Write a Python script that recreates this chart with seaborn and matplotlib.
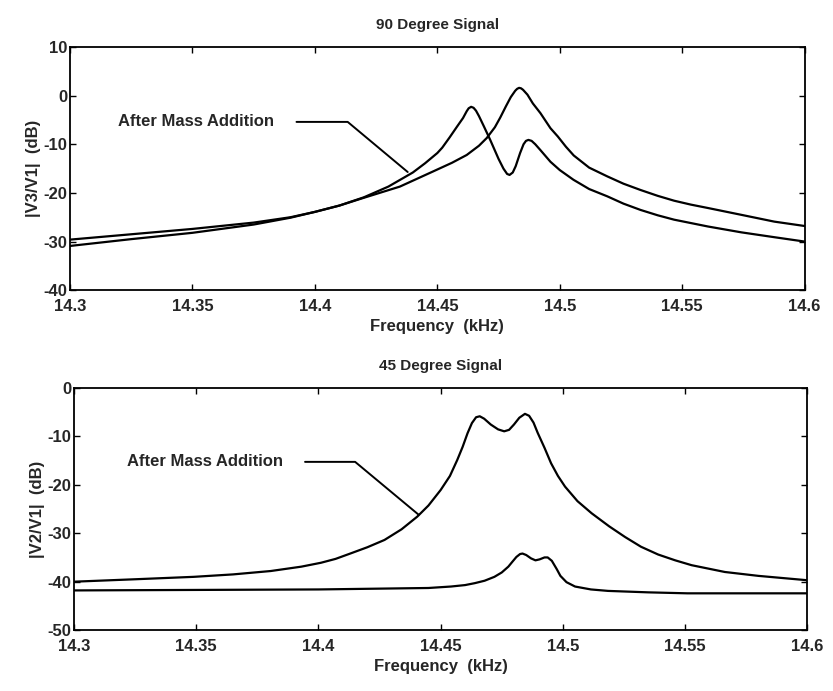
"""Two-panel frequency response (90 and 45 degree signals), before / after mass addition."""
import matplotlib
matplotlib.use("Agg")
import matplotlib.pyplot as plt
import pandas as pd
import seaborn as sns

# ---- 90 degree signal (top panel) ----
F90_AFTER = [14.300, 14.325, 14.350, 14.375, 14.390, 14.400, 14.410, 14.420, 14.430,
             14.440, 14.445, 14.450, 14.452, 14.455, 14.458, 14.4605, 14.462, 14.4628,
             14.4638, 14.4648, 14.4658, 14.467, 14.4690, 14.4716, 14.475, 14.477, 14.4785,
             14.4795, 14.4808, 14.482, 14.4838, 14.4852, 14.4862, 14.4872, 14.4885,
             14.490, 14.4921, 14.4962, 14.500, 14.5056, 14.512, 14.5194, 14.526, 14.533,
             14.540, 14.5467, 14.5605, 14.5741, 14.5876, 14.600]
DB90_AFTER = [-29.6, -28.5, -27.4, -26.1, -25.0, -23.9, -22.6, -20.9, -18.7,
              -15.8, -13.9, -11.8, -10.7, -8.6, -6.4, -4.6, -3.2, -2.6,
              -2.3, -2.5, -3.1, -4.2, -6.3, -9.1, -13.0, -15.0, -16.1,
              -16.3, -15.8, -14.5, -11.8, -10.0, -9.3, -9.1, -9.3,
              -10.0, -11.2, -13.6, -15.3, -17.3, -19.2, -20.7, -22.2, -23.5,
              -24.6, -25.5, -26.9, -28.1, -29.1, -30.0]

F90_BEFORE = [14.300, 14.325, 14.350, 14.375, 14.390, 14.400, 14.410, 14.420, 14.4347,
              14.4482, 14.456, 14.462, 14.467, 14.4702, 14.4735, 14.4757, 14.478, 14.480,
              14.4818, 14.4826, 14.4834, 14.4842, 14.485, 14.4868, 14.489, 14.4921,
              14.4962, 14.4992, 14.5025, 14.5057, 14.512, 14.5194, 14.526, 14.533,
              14.540, 14.5467, 14.5535, 14.5605, 14.5741, 14.5876, 14.600]
DB90_BEFORE = [-30.9, -29.5, -28.2, -26.5, -25.1, -23.9, -22.6, -21.0, -18.7,
               -15.6, -13.8, -12.2, -10.3, -8.7, -6.5, -4.5, -2.2, -0.3,
               1.0, 1.4, 1.6, 1.5, 1.2, 0.2, -1.6, -3.6,
               -6.7, -8.4, -10.5, -12.3, -14.8, -16.6, -18.1, -19.4,
               -20.6, -21.6, -22.4, -23.1, -24.5, -25.9, -26.8]

# ---- 45 degree signal (bottom panel) ----
F45_AFTER = [14.300, 14.325, 14.349, 14.365, 14.3805, 14.393, 14.401, 14.407, 14.413,
             14.420, 14.427, 14.434, 14.4404, 14.445, 14.450, 14.4538, 14.4568, 14.459,
             14.461, 14.4628, 14.4645, 14.466, 14.4678, 14.4705, 14.4735, 14.476, 14.478,
             14.480, 14.4822, 14.4845, 14.4862, 14.488, 14.4897, 14.4925, 14.4952, 14.498,
             14.5009, 14.506, 14.5118, 14.519, 14.5255, 14.532, 14.539, 14.546, 14.5527,
             14.5663, 14.580, 14.600]
DB45_AFTER = [-40.0, -39.5, -39.0, -38.5, -37.8, -36.9, -36.1, -35.3, -34.2,
              -32.9, -31.4, -29.2, -26.6, -24.3, -21.1, -18.2, -14.9, -12.2,
              -9.4, -7.3, -6.1, -5.9, -6.4, -7.6, -8.6, -9.0, -8.7,
              -7.6, -6.2, -5.4, -5.8, -7.2, -9.3, -12.4, -15.6, -18.2,
              -20.4, -23.4, -25.9, -28.6, -30.8, -32.8, -34.4, -35.6, -36.6,
              -38.0, -38.8, -39.7]

F45_BEFORE = [14.300, 14.350, 14.400, 14.430, 14.445, 14.4542, 14.460, 14.464, 14.468,
              14.472, 14.475, 14.4777, 14.4795, 14.481, 14.4825, 14.4835, 14.485, 14.487,
              14.4888, 14.4905, 14.4925, 14.4938, 14.4955, 14.4975, 14.499, 14.5015,
              14.505, 14.5115, 14.5185, 14.535, 14.551, 14.600]
DB45_BEFORE = [-41.8, -41.7, -41.6, -41.4, -41.3, -41.0, -40.7, -40.3, -39.8,
               -39.0, -38.1, -36.9, -35.8, -34.9, -34.3, -34.2, -34.5, -35.2,
               -35.6, -35.4, -35.0, -35.0, -35.7, -37.4, -38.8, -40.1,
               -41.0, -41.6, -41.9, -42.2, -42.4, -42.4]

# annotation leader lines (data coords)
LEAD90_F = [14.3925, 14.4134, 14.4379]
LEAD90_DB = [-5.4, -5.4, -15.7]
LEAD45_F = [14.3945, 14.4150, 14.4410]
LEAD45_DB = [-15.3, -15.3, -26.2]

XTICKS = [14.3, 14.35, 14.4, 14.45, 14.5, 14.55, 14.6]
XTICKLABELS = ["14.3", "14.35", "14.4", "14.45", "14.5", "14.55", "14.6"]


def _curves(f_a, db_a, f_b, db_b):
    return pd.concat([
        pd.DataFrame({"freq": f_a, "db": db_a, "state": "after"}),
        pd.DataFrame({"freq": f_b, "db": db_b, "state": "before"}),
    ], ignore_index=True)


sns.set_theme(style="ticks")
plt.rcParams["font.family"] = ["Liberation Sans", "DejaVu Sans"]
plt.rcParams["font.weight"] = "bold"
plt.rcParams["axes.unicode_minus"] = False

fig = plt.figure(figsize=(8.33, 6.91), dpi=100)
ax1 = fig.add_axes([0.084, 0.580, 0.882, 0.352])
ax2 = fig.add_axes([0.089, 0.088, 0.880, 0.351])

panels = [
    (ax1, _curves(F90_AFTER, DB90_AFTER, F90_BEFORE, DB90_BEFORE), (-40, 10),
     "90 Degree Signal", "|V3/V1|  (dB)", LEAD90_F, LEAD90_DB, 14.3195),
    (ax2, _curves(F45_AFTER, DB45_AFTER, F45_BEFORE, DB45_BEFORE), (-50, 0),
     "45 Degree Signal", "|V2/V1|  (dB)", LEAD45_F, LEAD45_DB, 14.3215),
]

for ax, df, ylim, title, ylabel, lf, ldb, tx in panels:
    sns.lineplot(data=df, x="freq", y="db", units="state", estimator=None,
                 color="black", linewidth=1.6, sort=False, ax=ax, legend=False,
                 solid_joinstyle="round", solid_capstyle="round")
    ax.plot(lf, ldb, color="black", linewidth=1.4)
    ax.text(tx, ldb[0], "After Mass Addition", fontsize=12, fontweight="bold",
            ha="left", va="center")
    ax.set_xlim(14.3, 14.6)
    ax.set_ylim(*ylim)
    ax.set_xticks(XTICKS)
    ax.set_xticklabels(XTICKLABELS)
    ax.set_yticks(range(ylim[0], ylim[1] + 1, 10))
    ax.tick_params(direction="in", top=True, right=True, length=4, width=1,
                   labelsize=12, pad=2, color="black")
    ax.tick_params(axis="x", pad=6)
    for sp in ax.spines.values():
        sp.set_visible(True)
        sp.set_linewidth(1.3)
        sp.set_color("black")
    ax.set_title(title, fontsize=11, fontweight="bold", pad=13)
    ax.set_xlabel("Frequency  (kHz)", fontsize=12, fontweight="bold", labelpad=4)
    ax.set_ylabel(ylabel, fontsize=12, fontweight="bold", labelpad=2)
    for lbl in ax.get_xticklabels() + ax.get_yticklabels():
        lbl.set_fontweight("bold")

fig.savefig("out.png", dpi=100)
